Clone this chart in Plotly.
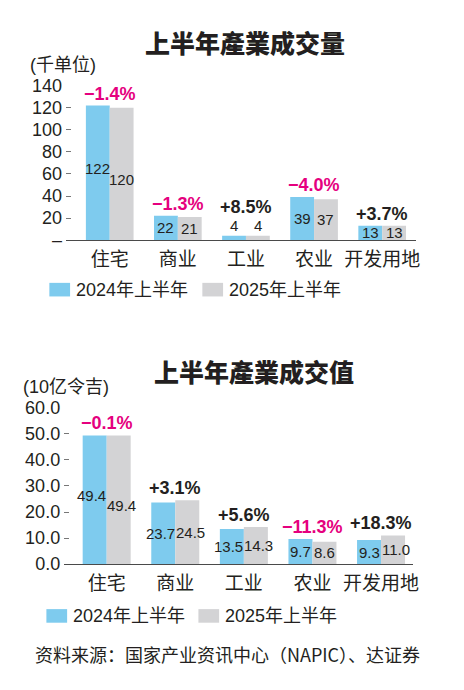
import plotly.graph_objects as go

# ---------------- data ----------------
categories = ['住宅', '商业', '工业', '农业', '开发用地']
series_names = ['2024年上半年', '2025年上半年']

volume_2024 = [122, 22, 4, 39, 13]
volume_2025 = [120, 21, 4, 37, 13]
volume_change = [-1.4, -1.3, 8.5, -4.0, 3.7]
volume_ticks = [0, 20, 40, 60, 80, 100, 120, 140]
volume_ticktext = ['–', '20', '40', '60', '80', '100', '120', '140']

value_2024 = [49.4, 23.7, 13.5, 9.7, 9.3]
value_2025 = [49.4, 24.5, 14.3, 8.6, 11.0]
value_change = [-0.1, 3.1, 5.6, -11.3, 18.3]
value_ticks = [0, 10, 20, 30, 40, 50, 60]
value_ticktext = ['0.0', '10.0', '20.0', '30.0', '40.0', '50.0', '60.0']

title_top = '上半年產業成交量'
title_bottom = '上半年產業成交值'
unit_top = '(千单位)'
unit_bottom = '(10亿令吉)'
source_text = '资料来源：国家产业资讯中心（NAPIC）、达证券'

# ---------------- style ----------------
W, H = 464, 690
BLUE = '#7ecbee'
GRAY = '#d3d3d5'
MAGENTA = '#e5007e'
DARK = '#231f20'
AXIS = '#4a4a4a'
SANS = 'Liberation Sans, Arial, Noto Sans CJK SC, sans-serif'
CJK = 'Noto Sans CJK SC, sans-serif'
BAR_HALF = 0.175  # centre offset of each bar inside its group (category units)


def px(x):
    return x / W


def py(y):
    return 1 - y / H


fig = go.Figure()

panels = [
    dict(xa='x', ya='y', s1=volume_2024, s2=volume_2025, chg=volume_change,
         fmt='{:.0f}', ymax=140, xdom=(67, 421), ydom=(78, 237),
         xrange=[-0.64, 4.49], ticks=volume_ticks, ticktext=volume_ticktext,
         title=title_top, title_xy=(248, 33), unit=unit_top, unit_xy=(28, 57),
         legend_y=288, legend_x=(50, 205)),
    dict(xa='x2', ya='y2', s1=value_2024, s2=value_2025, chg=value_change,
         fmt='{:.1f}', ymax=60, xdom=(65, 418), ydom=(409.7, 570.7),
         xrange=[-0.62, 4.46], ticks=value_ticks, ticktext=value_ticktext,
         title=title_bottom, title_xy=(257, 372), unit=unit_bottom, unit_xy=(21, 388),
         legend_y=624, legend_x=(47, 201)),
]

annotations = []
shapes = []
layout_axes = {}

for i, p in enumerate(panels):
    thresh = p['ymax'] * 0.06
    for vals, col in ((p['s1'], BLUE), (p['s2'], GRAY)):
        fig.add_trace(go.Bar(
            x=categories, y=vals, xaxis=p['xa'], yaxis=p['ya'],
            marker=dict(color=col, line=dict(width=0)),
            showlegend=False, hoverinfo='skip'))

    # value labels + percentage change labels
    for k, (a, b, ch) in enumerate(zip(p['s1'], p['s2'], p['chg'])):
        tall = min(a, b) > 0.5 * p['ymax']
        for side, v in ((-1, a), (1, b)):
            lab = p['fmt'].format(v)
            outside = v < thresh
            xshift = side * 3 if len(lab) >= 4 else 0
            if outside:
                ys, ya_, yv = 0, 'bottom', v
            else:
                ys, ya_, yv = ((4 if side < 0 else -6) if tall else 0), 'middle', v / 2
            annotations.append(dict(
                x=k + side * BAR_HALF, y=yv, xref=p['xa'], yref=p['ya'],
                text=lab, showarrow=False, xanchor='center', yanchor=ya_,
                xshift=xshift, yshift=ys,
                font=dict(family=SANS, size=15, color=DARK)))
        outside = min(a, b) < thresh
        sign = '+' if ch > 0 else '−'
        annotations.append(dict(
            x=k, y=max(a, b), xref=p['xa'], yref=p['ya'],
            text=f'{sign}{abs(ch):.1f}%', showarrow=False,
            yanchor='middle', yshift=12 + (17 if outside else 0),
            font=dict(family=SANS, size=18, color=MAGENTA if ch < 0 else DARK,
                      weight='bold')))

    # title and unit
    annotations.append(dict(
        x=px(p['title_xy'][0]), y=py(p['title_xy'][1]), xref='paper', yref='paper',
        text=p['title'], showarrow=False, xanchor='center', yanchor='middle',
        font=dict(family=CJK, size=25, color=DARK, weight=900)))
    annotations.append(dict(
        x=px(p['unit_xy'][0]), y=py(p['unit_xy'][1]), xref='paper', yref='paper',
        text=p['unit'], showarrow=False, xanchor='left', yanchor='middle',
        font=dict(family=SANS, size=18, color=DARK)))

    # legend (manual swatches + text)
    ly = p['legend_y']
    for x0, name, col in zip(p['legend_x'], series_names, (BLUE, GRAY)):
        shapes.append(dict(type='rect', xref='paper', yref='paper',
                           x0=px(x0), x1=px(x0 + 21), y0=py(ly - 7), y1=py(ly + 7),
                           fillcolor=col, line=dict(width=0)))
        annotations.append(dict(
            x=px(x0 + 25), y=py(ly), xref='paper', yref='paper', text=name,
            showarrow=False, xanchor='left', yanchor='middle',
            font=dict(family=SANS, size=18, color=DARK)))

    xkey = 'xaxis' if i == 0 else 'xaxis2'
    ykey = 'yaxis' if i == 0 else 'yaxis2'
    layout_axes[xkey] = dict(
        domain=[px(p['xdom'][0]), px(p['xdom'][1])], anchor=p['ya'],
        range=p['xrange'], showline=True, linecolor=AXIS, linewidth=1,
        ticks='', showgrid=False, zeroline=False, fixedrange=True,
        tickfont=dict(family=CJK, size=19, color=DARK), ticklabelstandoff=2)
    layout_axes[ykey] = dict(
        domain=[py(p['ydom'][1]), py(p['ydom'][0])], anchor=p['xa'],
        range=[0, p['ymax']], tickvals=p['ticks'], ticktext=p['ticktext'],
        ticks='inside', ticklen=5, tickcolor='#777777', tickwidth=1,
        showline=False, showgrid=False, zeroline=False, fixedrange=True,
        tickfont=dict(family=SANS, size=18, color=DARK), ticklabelstandoff=3)

annotations.append(dict(
    x=px(230), y=py(663), xref='paper', yref='paper', text=source_text,
    showarrow=False, xanchor='center', yanchor='middle',
    font=dict(family=CJK, size=18, color=DARK)))

fig.update_layout(
    width=W, height=H, autosize=False,
    margin=dict(l=0, r=0, t=0, b=0),
    paper_bgcolor='white', plot_bgcolor='white',
    barmode='group', bargap=0.3, bargroupgap=0,
    annotations=annotations, shapes=shapes,
    **layout_axes)

fig.write_html('out.html', config={'displayModeBar': False},
               post_script="document.body.style.margin='0';document.body.style.overflow='hidden';")
